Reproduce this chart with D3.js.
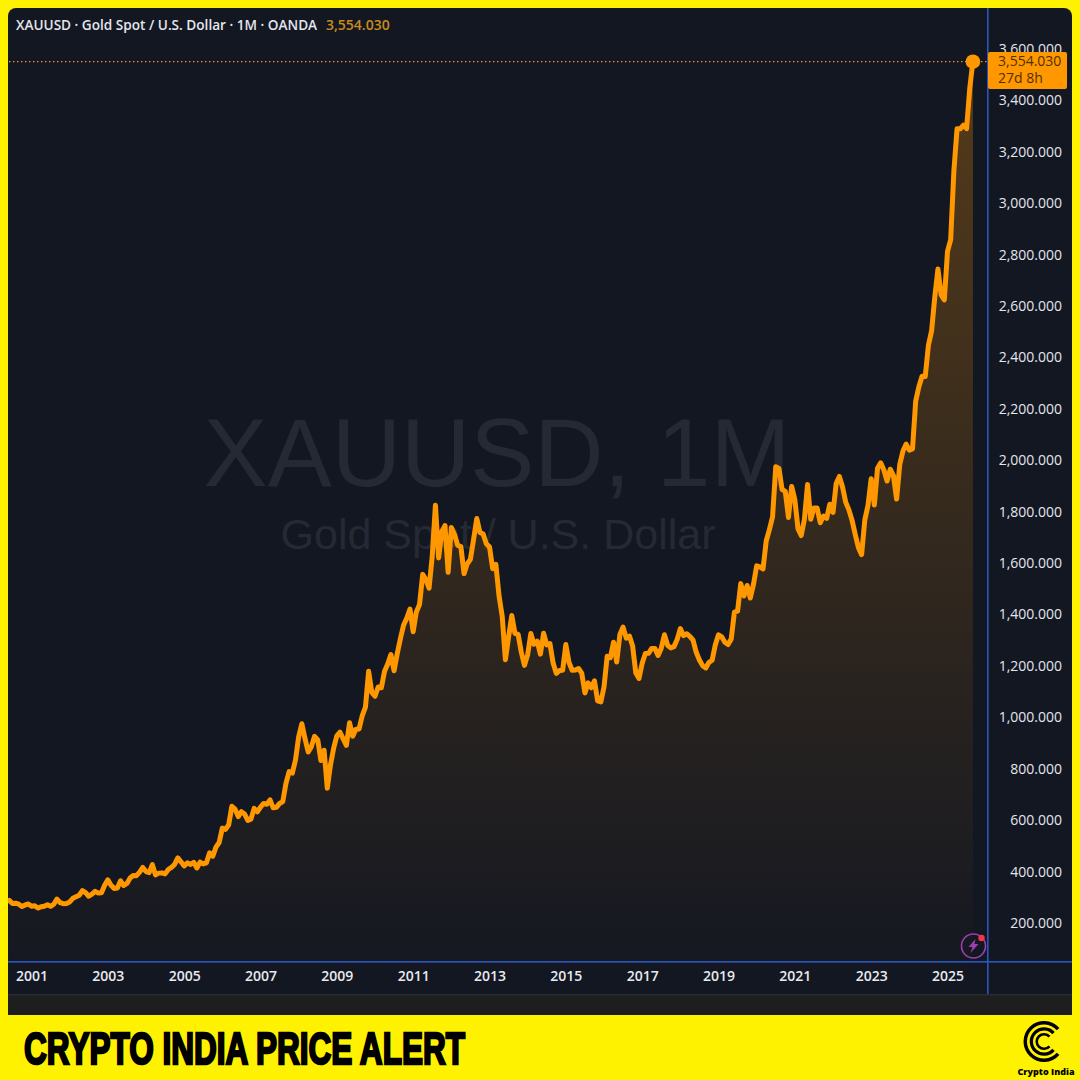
<!DOCTYPE html>
<html><head><meta charset="utf-8">
<script src="https://cdn.jsdelivr.net/npm/d3@7"></script>
<style>html,body{margin:0;padding:0;background:#fff200}svg{display:block}</style>
</head><body><svg id="c" width="1080" height="1080"></svg>
<script>
const startYear = 2000, startMonth = 5; // first close: June 2000
const monthlyClose = [
 288,276,277,273,264,270,274,
 265,267,258,263,265,271,265,273,293,279,275,276,
 282,296,302,308,326,318,304,312,323,317,318,347,
 368,347,334,336,364,346,354,375,385,384,398,416,
 400,396,427,387,394,395,391,408,416,428,453,438,
 422,434,428,436,414,437,430,434,473,460,495,513,
 569,564,582,654,643,614,633,624,599,604,646,632,
 651,665,662,679,648,650,665,672,743,789,783,834,
 924,975,917,865,886,926,912,832,872,724,815,880,
 928,942,916,891,979,927,954,955,1007,1040,1179,1097,
 1082,1118,1115,1179,1207,1244,1181,1248,1307,1359,1386,1421,
 1333,1410,1439,1556,1536,1502,1628,1825,1620,1722,1746,1564,
 1738,1711,1669,1664,1559,1597,1615,1692,1773,1719,1713,1675,
 1663,1578,1595,1472,1393,1224,1312,1396,1327,1323,1253,1202,
 1244,1326,1284,1296,1246,1327,1282,1287,1211,1171,1182,1183,
 1283,1213,1183,1184,1190,1172,1095,1134,1115,1142,1064,1060,
 1118,1238,1232,1292,1215,1322,1351,1308,1316,1277,1173,1151,
 1210,1248,1249,1268,1268,1241,1269,1321,1280,1270,1275,1303,
 1345,1318,1325,1315,1300,1253,1223,1201,1192,1214,1222,1282,
 1321,1313,1292,1283,1305,1409,1413,1520,1472,1513,1464,1517,
 1589,1585,1577,1686,1730,1780,1975,1968,1886,1879,1777,1898,
 1847,1734,1707,1769,1906,1770,1814,1814,1757,1783,1774,1829,
 1797,1909,1937,1896,1837,1807,1766,1711,1660,1633,1768,1824,
 1928,1826,1969,1990,1962,1919,1965,1940,1849,1984,2036,2063,
 2039,2044,2230,2286,2327,2326,2447,2503,2635,2744,2643,2624,
 2812,2858,3124,3289,3289,3303,3290,3447,3554.03
];
const yearTicks = [2001,2003,2005,2007,2009,2011,2013,2015,2017,2019,2021,2023,2025];
const priceTicks = [200,400,600,800,1000,1200,1400,1600,1800,2000,2200,2400,2600,2800,3000,3200,3400,3600];
const headerText = "XAUUSD · Gold Spot / U.S. Dollar · 1M · OANDA";
const lastLabel = "3,554.030", countdownLabel = "27d 8h";
const bannerText = "CRYPTO INDIA PRICE ALERT", brandText = "Crypto India";

const UI = "'Open Sans','Noto Sans',sans-serif";
const svg = d3.select("#c");
const defs = svg.append("defs");
const x = d3.scaleLinear().domain([2001,2025]).range([31.5,947.5]);
const y = d3.scaleLinear().domain([200,3400]).range([923,100.3]);
const t = i => startYear + (startMonth + i)/12;

// panel
svg.append("rect").attr("width",1080).attr("height",1080).attr("fill","#fff200");
svg.append("path").attr("d","M8,1015V16a8,8 0 0 1 8,-8H1064a8,8 0 0 1 8,8V1015Z").attr("fill","#131722");
svg.append("rect").attr("x",8).attr("y",995).attr("width",1064).attr("height",20).attr("fill","#1e1e1f");
svg.append("rect").attr("x",8).attr("y",994).attr("width",1064).attr("height",1.5).attr("fill","#2a2c33");

// watermark
svg.append("text").attr("x",497).attr("y",486).attr("text-anchor","middle")
  .attr("font-family","'Liberation Sans',Arial,sans-serif").attr("font-size",96).attr("fill","#252933").text("XAUUSD, 1M");
svg.append("text").attr("x",498).attr("y",549).attr("text-anchor","middle")
  .attr("font-family","'Liberation Sans',Arial,sans-serif").attr("font-size",43).attr("fill","#252933").text("Gold Spot / U.S. Dollar");

// area + line
const grad = defs.append("linearGradient").attr("id","g").attr("x1",0).attr("x2",0).attr("y1",0).attr("y2",1);
grad.append("stop").attr("offset",0).attr("stop-color","#ff9800").attr("stop-opacity",0.28);
grad.append("stop").attr("offset",1).attr("stop-color","#ff9800").attr("stop-opacity",0.01);
defs.append("clipPath").attr("id","plot").append("rect").attr("x",8).attr("y",8).attr("width",979).attr("height",953);
const g = svg.append("g").attr("clip-path","url(#plot)");
const area = d3.area().x((d,i)=>x(t(i))).y0(961).y1(d=>y(d));
const line = d3.line().x((d,i)=>x(t(i))).y(d=>y(d));
g.append("path").datum(monthlyClose).attr("d",area).attr("fill","url(#g)");
g.append("path").datum(monthlyClose).attr("d",line).attr("fill","none").attr("stroke","#ff9800")
  .attr("stroke-width",5).attr("stroke-linejoin","round").attr("stroke-linecap","round");

const last = monthlyClose[monthlyClose.length-1], lastX = x(t(monthlyClose.length-1));
svg.append("line").attr("x1",9).attr("x2",987).attr("y1",y(last)+1).attr("y2",y(last)+1)
  .attr("stroke","#e8962a").attr("stroke-width",1.2).attr("stroke-dasharray","1.5 2.5");
svg.append("circle").attr("cx",lastX).attr("cy",y(last)+1).attr("r",7.3).attr("fill","#ff9800");

// axes
const yAxis = d3.axisRight(y).tickValues(priceTicks).tickSize(0).tickPadding(0).tickFormat(d=>d3.format(",.3f")(d));
const ya = svg.append("g").attr("transform","translate(1062,0)").call(yAxis);
ya.select(".domain").remove();
ya.selectAll("text").attr("text-anchor","end").attr("fill","#e4e6ec").attr("font-family",UI)
  .attr("font-size",14).attr("font-weight",500);
const xAxis = d3.axisBottom(x).tickValues(yearTicks).tickSize(0).tickPadding(0).tickFormat(d3.format("d"));
const xa = svg.append("g").attr("transform","translate(0,971.5)").call(xAxis);
xa.select(".domain").remove();
xa.selectAll("text").attr("fill","#e8eaef").attr("font-family",UI).attr("font-size",14).attr("font-weight",600);

svg.append("rect").attr("x",987).attr("y",8).attr("width",1.6).attr("height",986).attr("fill","#2c56bd");
svg.append("rect").attr("x",8).attr("y",961).attr("width",1064).attr("height",1.6).attr("fill","#2c56bd");

// price tag
svg.append("rect").attr("x",988).attr("y",52).attr("width",79).attr("height",37).attr("rx",2).attr("fill","#ff9800");
svg.append("text").attr("x",998).attr("y",66).attr("fill","#4f3000").attr("font-family",UI).attr("font-size",14).attr("font-weight",500).text(lastLabel);
svg.append("text").attr("x",998).attr("y",83).attr("fill","#4f3000").attr("font-family",UI).attr("font-size",14).attr("font-weight",500).text(countdownLabel);

// header
svg.append("text").attr("x",16).attr("y",30).attr("fill","#e4e6ec").attr("font-family",UI).attr("font-size",13.6).attr("font-weight",600).text(headerText);
svg.append("text").attr("x",326).attr("y",30).attr("fill","#c98a1e").attr("font-family",UI).attr("font-size",14).attr("font-weight",600).text(lastLabel);

// bolt badge
const b = svg.append("g").attr("transform","translate(973.5,946)");
b.append("circle").attr("r",12).attr("fill","none").attr("stroke","#9c3fb0").attr("stroke-width",1.6);
b.append("path").attr("d","M2,-7L-5,1H-1L-3,7L5,-2H1Z").attr("fill","#9c3fb0");
b.append("circle").attr("cx",8).attr("cy",-8).attr("r",3.2).attr("fill","#f23645");

// banner
svg.append("text").attr("x",24).attr("y",1064).attr("fill","#000").attr("stroke","#000").attr("stroke-width",2.4)
  .attr("font-family","'Liberation Sans Narrow','Liberation Sans',sans-serif").attr("font-size",44).attr("font-weight",700)
  .attr("textLength",441).attr("lengthAdjust","spacingAndGlyphs").text(bannerText);

// logo: three concentric rings, open to the right
const logo = svg.append("g").attr("transform","translate(1044,1041.5)");
[[17,20.5],[11,14.3],[6,8.6]].forEach(([r0,r1])=>{
  logo.append("path").attr("d",d3.arc().innerRadius(r0).outerRadius(r1)
    .startAngle(Math.PI/2+0.72).endAngle(Math.PI*2.5-0.72)()).attr("fill","#000");
});
svg.append("text").attr("x",1046).attr("y",1075).attr("text-anchor","middle").attr("fill","#000")
  .attr("font-family","'Open Sans',sans-serif").attr("font-size",9).attr("font-weight",800).text(brandText);
</script></body></html>
